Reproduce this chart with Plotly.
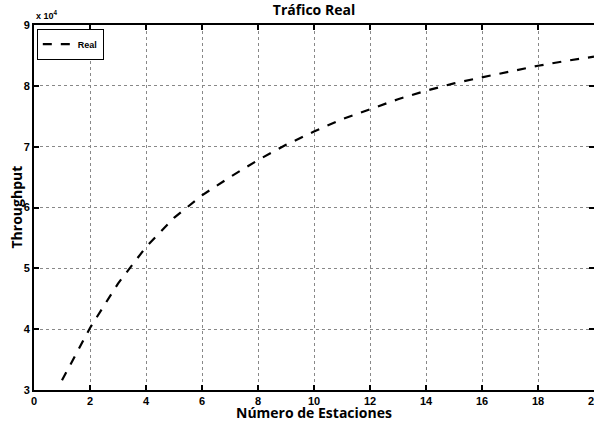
import plotly.graph_objects as go

estaciones = list(range(1, 21))
throughput = [31600, 40200, 47500, 53500, 58300, 62000, 65000, 67800, 70300, 72500,
              74500, 76200, 77800, 79200, 80400, 81400, 82400, 83300, 84100, 84800]
x_ticks = [0, 2, 4, 6, 8, 10, 12, 14, 16, 18, 20]
y_ticks = [30000, 40000, 50000, 60000, 70000, 80000, 90000]
y_ticktext = ["3", "4", "5", "6", "7", "8", "9"]

tickfont = dict(family="Liberation Sans, Arial", size=11, color="black", weight="bold")
labfont = dict(family="Open Sans, Noto Sans", size=14, color="black", weight="bold")

fig = go.Figure()
fig.add_trace(go.Scatter(x=estaciones, y=throughput, mode="lines", name="Real",
                         line=dict(color="black", width=2.2, dash="dash")))

fig.update_layout(
    width=594, height=422,
    margin=dict(l=34, r=0, t=25, b=32, autoexpand=False),
    paper_bgcolor="white", plot_bgcolor="white",
    title=dict(text="Tráfico Real", x=0.5, xref="paper", xanchor="center", y=0.976, yref="container",
               yanchor="middle",
               font=dict(family="Open Sans, Noto Sans", size=14, color="black", weight="bold")),
    showlegend=True,
    legend=dict(x=0.005, y=0.99, xanchor="left", yanchor="top", bgcolor="white",
                bordercolor="black", borderwidth=1,
                font=dict(family="Liberation Sans, Arial", size=9, color="black", weight="bold"),
                itemwidth=30, tracegroupgap=0),
    xaxis=dict(range=[0, 20], tickvals=x_ticks, ticks="inside", ticklen=5, tickwidth=1.5, tickcolor="black",
               showline=True, linecolor="black", linewidth=2, mirror="ticks",
               showgrid=True, gridcolor="#888888", griddash="dot", gridwidth=1,
               zeroline=False, tickfont=tickfont, automargin=False),
    yaxis=dict(range=[30000, 90000], tickvals=y_ticks, ticktext=y_ticktext, ticks="inside", ticklen=5,
               tickwidth=1.5, tickcolor="black",
               showline=True, linecolor="black", linewidth=2, mirror="ticks",
               showgrid=True, gridcolor="#888888", griddash="dot", gridwidth=1,
               zeroline=False, tickfont=tickfont, automargin=False),
)
# last x tick label, partly cut at the right edge as in the original
fig.add_annotation(text=str(x_ticks[-1]), xref="x", yref="paper", x=x_ticks[-1], y=0,
                   xanchor="center", yanchor="top", yshift=-3, showarrow=False, font=tickfont)
fig.add_annotation(text="Número de Estaciones", xref="paper", yref="paper", x=0.5, y=0,
                   xanchor="center", yanchor="middle", yshift=-22, showarrow=False, font=labfont)
fig.add_annotation(text="Throughput", xref="paper", yref="paper", x=0, y=0.5, textangle=-90,
                   xanchor="center", yanchor="middle", xshift=-18, showarrow=False, font=labfont)
fig.add_annotation(text="x 10<sup>4</sup>", xref="paper", yref="paper", x=0.0, y=1.0,
                   xanchor="left", yanchor="bottom", showarrow=False, yshift=2,
                   font=dict(family="Liberation Sans, Arial", size=9, color="black", weight="bold"))
fig.write_html("out.html", config={"displayModeBar": False},
               post_script="document.body.style.margin='0';document.body.style.overflow='hidden';")
